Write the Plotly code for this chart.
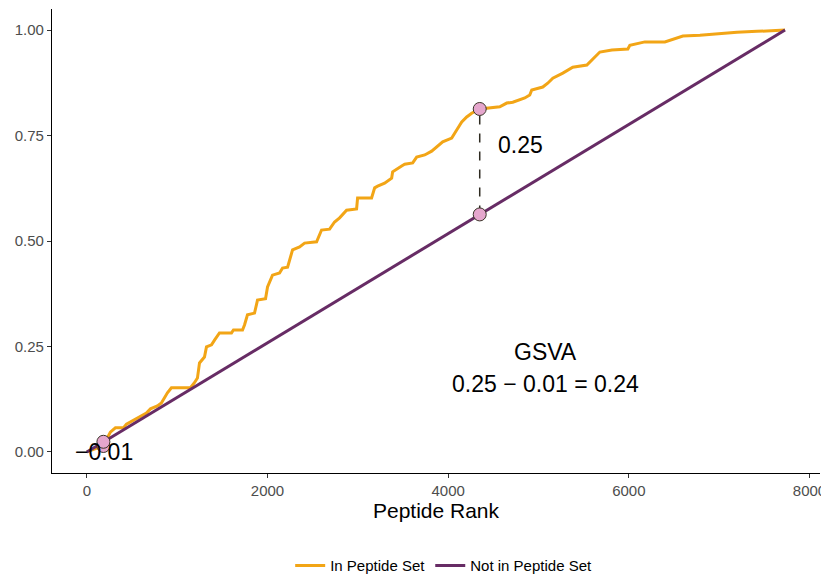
import plotly.graph_objects as go

# Running-sum curve for peptides in the set
in_rank = [0, 83, 172, 227, 260, 316, 404, 438, 526, 571, 659, 704, 781, 825, 859, 892, 936,
           1147, 1191, 1224, 1247, 1302, 1324, 1380, 1413, 1468, 1601, 1623, 1723, 1745, 1778,
           1856, 1889, 1978, 2000, 2055, 2133, 2166, 2222, 2277, 2355, 2410, 2543, 2598, 2687,
           2742, 2798, 2875, 2986, 2997, 3152, 3186, 3219, 3296, 3374, 3385, 3485, 3518, 3607,
           3651, 3740, 3817, 3939, 4039, 4094, 4150, 4205, 4260, 4349, 4460, 4571, 4648, 4715,
           4848, 4903, 4925, 5047, 5102, 5158, 5269, 5324, 5379, 5535, 5590, 5645, 5679, 5812,
           5989, 6011, 6122, 6177, 6399, 6454, 6532, 6598, 6787, 7041, 7197, 7418, 7729]
in_es = [0.0, 0.007, 0.014, 0.033, 0.047, 0.057, 0.057, 0.066, 0.076, 0.083, 0.092, 0.102, 0.109,
         0.116, 0.128, 0.140, 0.152, 0.152, 0.164, 0.175, 0.211, 0.225, 0.249, 0.254, 0.265,
         0.282, 0.282, 0.289, 0.289, 0.301, 0.325, 0.329, 0.360, 0.363, 0.391, 0.419, 0.424,
         0.436, 0.438, 0.479, 0.486, 0.495, 0.498, 0.526, 0.528, 0.545, 0.555, 0.573, 0.576,
         0.602, 0.602, 0.626, 0.630, 0.637, 0.649, 0.664, 0.678, 0.682, 0.685, 0.699, 0.704,
         0.713, 0.735, 0.744, 0.763, 0.782, 0.794, 0.803, 0.813, 0.815, 0.818, 0.827, 0.829,
         0.839, 0.846, 0.858, 0.865, 0.874, 0.886, 0.898, 0.905, 0.912, 0.917, 0.929, 0.941,
         0.948, 0.953, 0.955, 0.964, 0.969, 0.972, 0.972, 0.976, 0.983, 0.986, 0.988, 0.993,
         0.995, 0.997, 1.0]

# Running-sum for peptides not in the set
not_rank = [0, 7729]
not_es = [0.0, 1.0]

# Max / min deviation points
dev_rank = [4349, 183]
dev_in = [0.813, 0.014]
dev_not = [0.563, 0.024]
dev_labels = ["0.25", "\u22120.01"]

x_ticks = [0, 2000, 4000, 6000, 8000]
y_ticks = [0, 0.25, 0.5, 0.75, 1.0]

ORANGE = "#F2A516"
PURPLE = "#672C65"
FONT = "Liberation Sans, Arial, sans-serif"

fig = go.Figure()
fig.add_trace(go.Scatter(x=in_rank, y=in_es, mode="lines", name="In Peptide Set",
                         line=dict(color=ORANGE, width=3)))
fig.add_trace(go.Scatter(x=not_rank, y=not_es, mode="lines", name="Not in Peptide Set",
                         line=dict(color=PURPLE, width=3)))
# dashed segment at max deviation
fig.add_trace(go.Scatter(x=[dev_rank[0], dev_rank[0]], y=[dev_not[0], dev_in[0]], mode="lines",
                         line=dict(color="#2e2a20", width=1.5, dash="dash"), showlegend=False,
                         hoverinfo="skip"))
# points
fig.add_trace(go.Scatter(x=dev_rank + dev_rank, y=dev_in + dev_not, mode="markers",
                         marker=dict(size=13, color="#E5A6CD", line=dict(color="#3a3428", width=1)),
                         showlegend=False))

ann_font = dict(size=23, color="black", family=FONT)
fig.add_annotation(x=4803, y=0.727, text=dev_labels[0], showarrow=False, font=ann_font)
fig.add_annotation(x=194, y=0.0, text=dev_labels[1], showarrow=False, font=ann_font)
fig.add_annotation(x=5080, y=0.237, text="GSVA", showarrow=False, font=ann_font)
fig.add_annotation(x=5080, y=0.161, text="0.25 \u2212 0.01 = 0.24", showarrow=False, font=ann_font)

# page body has an 8px margin; size the figure so the plot lands where the reference's does
fig.update_layout(
    width=829, height=575,
    margin=dict(l=44, r=17, t=1, b=110),
    paper_bgcolor="white", plot_bgcolor="white",
    font=dict(family=FONT),
    showlegend=True,
    legend=dict(orientation="h", x=0.51, xanchor="center", y=-0.2, yanchor="middle",
                font=dict(size=15, color="black"), itemwidth=30),
    xaxis=dict(range=[-386, 8116], tickvals=x_ticks, ticktext=[str(v) for v in x_ticks],
               automargin=False,
               showgrid=False, zeroline=False, showline=True, linecolor="black", linewidth=1.3,
               ticks="outside", ticklen=4, tickcolor="#333333", tickwidth=1.1,
               tickfont=dict(size=15, color="#4D4D4D"),
               title=dict(text="Peptide Rank", font=dict(size=21, color="black"), standoff=2)),
    yaxis=dict(range=[-0.05, 1.05], tickvals=y_ticks, ticktext=["%.2f" % v for v in y_ticks],
               automargin=False,
               showgrid=False, zeroline=False, showline=True, linecolor="black", linewidth=1.3,
               ticks="outside", ticklen=4, tickcolor="#333333", tickwidth=1.1,
               tickfont=dict(size=15, color="#4D4D4D")),
)

fig.write_html("out.html")
